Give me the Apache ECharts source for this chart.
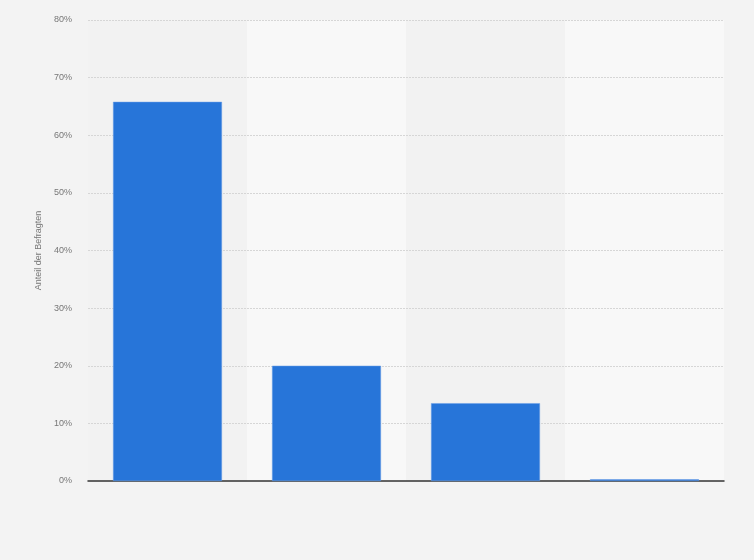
<!DOCTYPE html>
<html>
<head>
<meta charset="utf-8">
<script src="https://cdn.jsdelivr.net/npm/echarts@6/dist/echarts.min.js"></script>
<style>
html,body{margin:0;padding:0;background:#f3f3f3;}
#chart{width:754px;height:560px;}
</style>
</head>
<body>
<div id="chart"></div>
<script>
const categories = ['1', '2', '3', '4'];
const values = [65.8, 20, 13.5, 0.3];
const yTicks = { min: 0, max: 80, interval: 10 };
const yAxisTitle = 'Anteil der Befragten';

const chart = echarts.init(document.getElementById('chart'), null, {renderer: 'canvas'});
chart.setOption({
  backgroundColor: '#f3f3f3',
  animation: false,
  grid: { left: 88, right: 30, top: 20, bottom: 79 },
  xAxis: {
    type: 'category',
    data: categories,
    z: 1,
    axisLine: { show: true, lineStyle: { color: '#333', width: 1.5 } },
    axisTick: { show: false },
    axisLabel: { show: false },
    splitArea: { show: true, areaStyle: { color: ['#f2f2f2', '#f8f8f8'] } }
  },
  yAxis: {
    type: 'value',
    z: 2,
    min: yTicks.min, max: yTicks.max, interval: yTicks.interval,
    name: yAxisTitle,
    nameLocation: 'middle',
    nameGap: 43,
    nameTextStyle: { color: '#777', fontSize: 9, fontFamily: 'Arial, Liberation Sans, sans-serif' },
    axisLine: { show: false },
    axisTick: { show: false },
    axisLabel: { formatter: '{value}%', color: '#777', fontSize: 9, fontFamily: 'Arial, Liberation Sans, sans-serif', margin: 16 },
    splitLine: { showMinLine: false, lineStyle: { color: '#d6d6d6', type: [2, 1], width: 1 } }
  },
  series: [{
    type: 'bar',
    data: values,
    barWidth: '68.5%',
    z: 3,
    itemStyle: { color: '#2775d9', borderColor: '#6a9fe6', borderWidth: 0.5 }
  }]
});
</script>
</body>
</html>
